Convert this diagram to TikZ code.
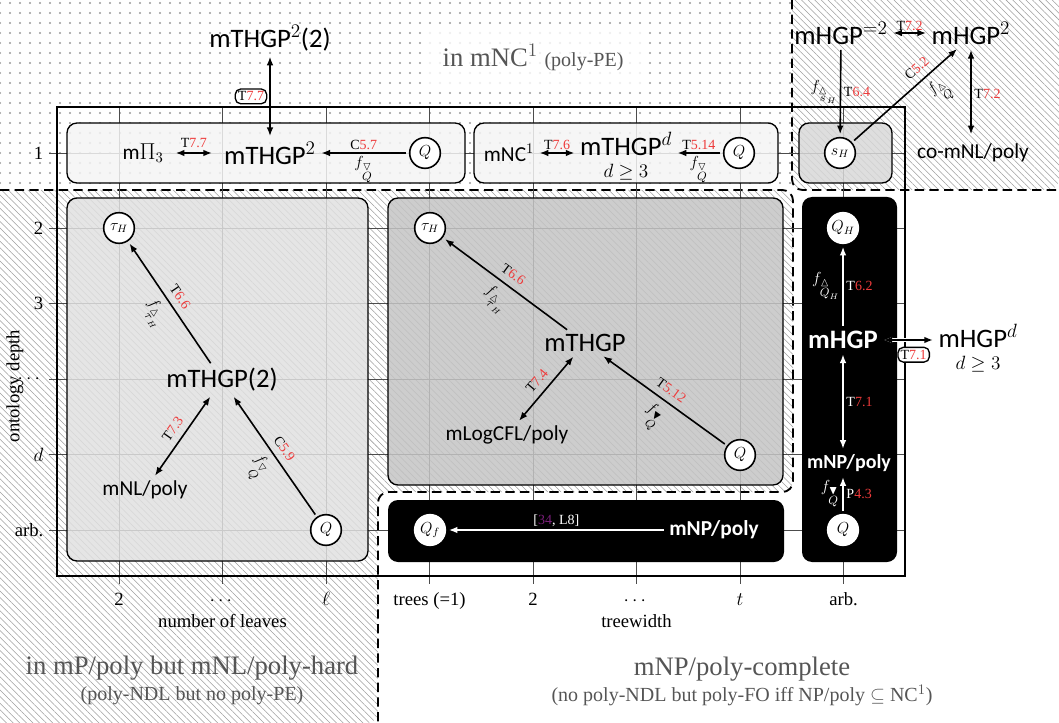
\documentclass[tikz,border=0pt]{standalone}
\usepackage{amsmath}
\usepackage{amssymb}
\usepackage{fontspec}
\setmainfont{Liberation Serif}
\setsansfont{Carlito}
\usetikzlibrary{patterns.meta}
\usetikzlibrary{arrows.meta}

\definecolor{refred}{HTML}{EE3B3B}
\definecolor{refpurple}{HTML}{7A1E7A}
\definecolor{regiongray}{HTML}{555555}
\definecolor{boxlight}{HTML}{F4F4F4}
\definecolor{boxsh}{HTML}{D8D8D8}
\definecolor{boxleft}{HTML}{E0E0E0}
\definecolor{boxdark}{HTML}{C4C4C4}

\newcommand{\tref}[2]{#1\textcolor{refred}{#2}}
\newcommand{\fmap}[3]{{\fontsize{13}{14}\selectfont$f_{\overset{\scriptstyle #1}{#2}_{#3}}$}}

\begin{document}
\begin{tikzpicture}[>={Latex[length=6.5pt,width=5pt]}, x=0.75pt, y=-0.75pt,
    gridline/.style={black!70, line width=0.5pt},
    regionline/.style={dash pattern=on 7pt off 4pt, line width=1.4pt},
    hatch/.style={pattern={Lines[angle=-45,distance=3.5pt,line width=0.4pt]}, pattern color=black!38},
    box/.style={draw, line width=1pt, rounded corners=7.5pt, fill opacity=0.85},
    darkbox/.style={fill=black, rounded corners=7.5pt},
    clsbig/.style={font=\sffamily\fontsize{20}{22}\selectfont, inner sep=2pt},
    clsname/.style={font=\sffamily\fontsize{16}{18}\selectfont, inner sep=2pt},
    clsbigw/.style={clsbig, font=\sffamily\bfseries\fontsize{20}{22}\selectfont, text=white},
    clsnamew/.style={clsname, font=\sffamily\bfseries\fontsize{16}{18}\selectfont, text=white},
    qnode/.style={circle, draw, fill=white, line width=1.2pt, minimum size=23pt, inner sep=0pt, font=\fontsize{12}{12}\selectfont},
    qnodew/.style={qnode, draw=white},
    lbl/.style={font=\fontsize{10.5}{12}\selectfont, inner sep=2pt},
    slbl/.style={lbl, midway, sloped, inner sep=5pt},
    lblw/.style={lbl, text=white},
    tagbox/.style={lbl, draw, fill=white, line width=1pt, rounded corners=4pt, inner sep=2pt},
    rel/.style={line width=1.2pt, shorten >=2pt, shorten <=2pt},
    relw/.style={rel, white},
    ticklbl/.style={font=\fontsize{14}{16}\selectfont},
    region/.style={text=regiongray, font=\fontsize{20}{24}\selectfont},
    regionsub/.style={text=regiongray, font=\fontsize{15}{18}\selectfont}]
    \useasboundingbox (0,0) rectangle (1059,723);
    %%% Regions
    \fill[pattern={Dots[distance=7.5pt,radius=0.8pt]}, pattern color=black!40] (0,0) rectangle (792,190);
    \fill[hatch] (792,0) [rounded corners=8pt] |- (1059,190) [sharp corners] -- (1059,0) -- cycle;
    \fill[hatch] (0,190) [rounded corners=8pt] -| (793,492) -| (378,723) [sharp corners] -- (0,723) -- cycle;
    \draw[regionline] (0,190) [rounded corners=8pt] -| (793,492) -| (378,723);
    \draw[regionline] (792,0) [rounded corners=8pt] |- (1059,190);
    %%% Grid and frame
    \foreach \x in {119,222.5,326,429.5,533,636.5,740,843.5}
        \draw[gridline] (\x,107) -- (\x,584);
    \foreach \y in {153,228.4,303.8,379.2,454.6,530}
        \draw[gridline] (49,\y) -- (905,\y);
    \draw[line width=1.3pt] (57,107) rectangle (905,576);
    %%% Boxes
    \draw[box, fill=boxlight] (67,123) rectangle (465,183);
    \draw[box, fill=boxlight] (474,123) rectangle (778,183);
    \draw[box, fill=boxsh] (799,123) rectangle (892,183);
    \draw[box, fill=boxleft] (67,198) rectangle (368,561);
    \draw[box, fill=boxdark] (388,198) rectangle (783,485);
    \fill[darkbox] (802,197) rectangle (897,562);
    \fill[darkbox] (388,500) rectangle (784,562);
    %%% Depth 1
    \node[clsname] (pi3) at (143,153) {m$\Pi_3$};
    \node[clsbig] (thgp2) at (270,153) {mTHGP$^2$};
    \node[qnode] (q1) at (425,153) {$Q$};
    \node[clsbig] (thgp22) at (270,38) {mTHGP$^2$(2)};
    \draw[rel, <->, shorten >=7pt, shorten <=7pt] (pi3) -- (thgp2) node[lbl, midway, above=1pt] {\tref{T}{7.7}};
    \draw[rel, ->] (q1) -- (thgp2) node[lbl, midway, above] {\tref{C}{5.7}} node[lbl, midway, below] {\fmap{\triangledown}{Q}{}};
    \draw[rel, <->] (thgp2) -- (thgp22) node[tagbox, midway, left=2pt] {\tref{T}{7.7}};

    \node[clsname] (nc1) at (509,153) {mNC$^1$};
    \node[clsbig, align=center] (thgpd) at (626,156) {mTHGP$^d$\\[-5pt]{\fontsize{14}{14}\selectfont$d \geq 3$}};
    \node[qnode] (q2) at (739,153) {$Q$};
    \draw[rel, <->] (nc1) -- (nc1 -| thgpd.west) node[lbl, midway, above] {\tref{T}{7.6}};
    \draw[rel, ->] (q2) -- (q2 -| thgpd.east) node[lbl, midway, above] {\tref{T}{5.14}} node[lbl, midway, below] {\fmap{\triangledown}{Q}{}};

    \node[qnode] (sH) at (840,153) {$s_H$};
    \node[clsbig] (hgpeq2) at (841,33) {mHGP$^{=2}$};
    \node[clsbig] (hgp2) at (971,33) {mHGP$^2$};
    \node[clsname] (conl) at (973,153) {co-mNL/poly};
    \draw[rel, <->] (hgpeq2) -- (hgp2) node[lbl, midway, above=-1pt] {\tref{T}{7.2}};
    \draw[rel, ->] (hgpeq2) -- (sH) node[lbl, midway, left] {\fmap{\vartriangle}{s}{H}} node[lbl, midway, right] {\tref{T}{6.4}};
    \draw[rel, ->] (sH) -- (hgp2.230) node[slbl, pos=0.68, above] {\tref{C}{5.2}} node[slbl, pos=0.7, below] {\fmap{\vartriangle}{Q}{}};
    \draw[rel, <->, shorten >=5pt] (hgp2) -- (hgp2 |- conl.north) node[lbl, midway, right] {\tref{T}{7.2}};
    %%% Bounded leaves
    \node[qnode] (tau1) at (119,228) {$\tau_H$};
    \node[clsbig] (thgp2p) at (222,380) {mTHGP(2)};
    \node[clsname] (mnl) at (145,490) {mNL/poly};
    \node[qnode] (q3) at (326,530) {$Q$};
    \draw[rel, ->] (thgp2p) -- (tau1) node[slbl, above] {\tref{T}{6.6}} node[slbl, below] {\fmap{\vartriangle}{\tau}{H}};
    \draw[rel, <->] (thgp2p) -- (mnl) node[slbl, above] {\tref{T}{7.3}};
    \draw[rel, ->] (q3) -- (thgp2p) node[slbl, above] {\tref{C}{5.9}} node[slbl, below] {\fmap{\triangledown}{Q}{}};
    %%% Bounded treewidth
    \node[qnode] (tau2) at (430,228) {$\tau_H$};
    \node[clsbig] (thgp) at (585,343) {mTHGP};
    \node[clsname] (logcfl) at (507,435) {mLogCFL/poly};
    \node[qnode] (q4) at (740,455) {$Q$};
    \draw[rel, ->] (thgp) -- (tau2) node[slbl, above] {\tref{T}{6.6}} node[slbl, below] {\fmap{\vartriangle}{\tau}{H}};
    \draw[rel, <->] (thgp) -- (logcfl) node[slbl, above] {\tref{T}{7.4}};
    \draw[rel, ->] (q4) -- (thgp) node[slbl, above] {\tref{T}{5.12}} node[slbl, below] {\fmap{\blacktriangledown}{Q}{}};
    %%% Arbitrary treewidth
    \node[qnodew] (qH) at (843,228) {$Q_H$};
    \node[clsbigw] (hgp) at (843,340) {mHGP};
    \node[clsnamew, font=\sffamily\bfseries\fontsize{15}{18}\selectfont] (mnp1) at (849,463) {mNP/poly};
    \node[qnodew] (q5) at (843,530) {$Q$};
    \draw[relw, ->] (hgp) -- (qH) node[lblw, midway, left] {\fmap{\vartriangle}{Q}{H}} node[lblw, midway, right] {\tref{T}{6.2}};
    \draw[relw, <->] (hgp) -- (hgp |- mnp1.north) node[lblw, midway, right] {\tref{T}{7.1}};
    \draw[relw, ->] (q5) -- (q5 |- mnp1.south) node[lblw, midway, left] {\fmap{\blacktriangledown}{Q}{}} node[lblw, midway, right] {\tref{P}{4.3}};
    \node[clsbig, align=center] (hgpd) at (978,348) {mHGP$^d$\\[-5pt]{\fontsize{14}{14}\selectfont$d \geq 3$}};
    \draw[rel, <->, white, line width=3pt] (hgp) -- (hgp -| hgpd.west);
    \draw[rel, <->] (hgp) -- (hgp -| hgpd.west) node[tagbox, pos=0.6, below=5pt] {\tref{T}{7.1}};

    \node[qnodew] (qf) at (430,530) {$Q_f$};
    \node[clsnamew] (mnp2) at (714,530) {mNP/poly};
    \draw[relw, ->] (mnp2) -- (qf) node[lblw, midway, above] {[\textcolor{refpurple}{34}, L8]};
    %%% Axes
    \foreach \y/\t [count=\i] in {153/1, 228.4/2, 303.8/3, 379.2/{$\cdots$}, 454.6/{$d$}, 530/{arb.}}
        \node[ticklbl, anchor=east] (ytick\i) at (48,\y) {\t};
    \foreach \x/\t [count=\i] in {119/2, 222.5/{$\cdots$}, 326/{$\ell$}, 429.5/{trees (=1)}, 533/2, 636.5/{$\cdots$}, 740/{$t$}, 843.5/{arb.}}
        \node[ticklbl, anchor=base] (xtick\i) at (\x,605) {\t};
    \node[ticklbl, anchor=base] (xname1) at (222.5,627) {number of leaves};
    \node[ticklbl, anchor=base] (xname2) at (636.5,627) {treewidth};
    \node[ticklbl, rotate=90] (yname) at (15,386) {ontology depth};
    %%% Region names
    \node[region, anchor=base, fill=white, fill opacity=0.8, text opacity=1, inner xsep=14pt, inner ysep=10pt] (ncreg) at (533,67) {in mNC$^1$ {\fontsize{15}{18}\selectfont (poly-PE)}};
    \node[region, anchor=base] (mpreg) at (192,674) {in mP/poly but mNL/poly-hard};
    \node[regionsub, anchor=base] (mpsub) at (192,700) {(poly-NDL but no poly-PE)};
    \node[region, anchor=base] (mnpreg) at (742,675) {mNP/poly-complete};
    \node[regionsub, anchor=base] (mnpsub) at (742,701) {(no poly-NDL but poly-FO iff NP/poly $\subseteq$ NC$^1$)};
\end{tikzpicture}
\end{document}
